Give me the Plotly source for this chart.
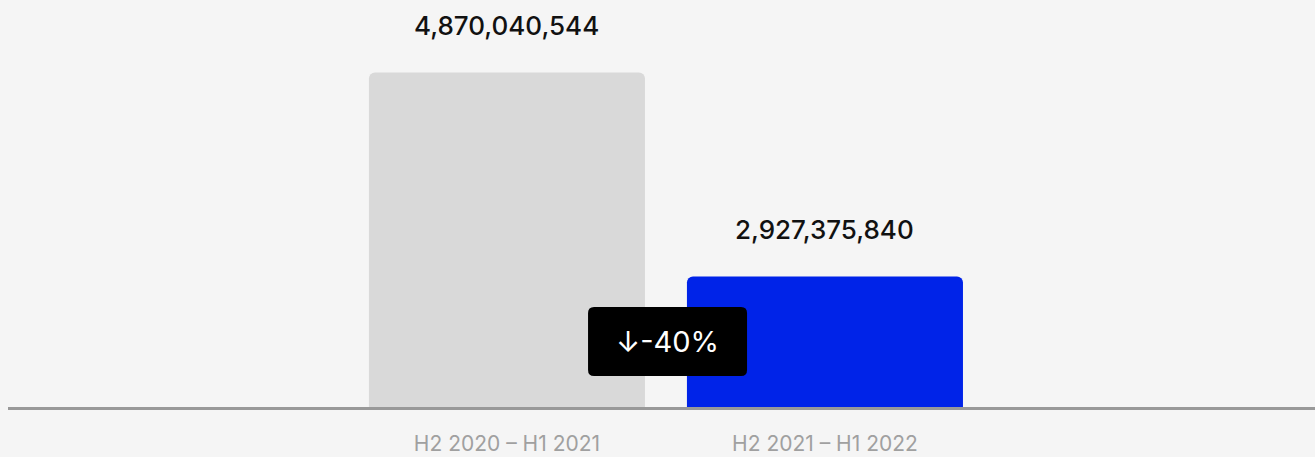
import plotly.graph_objects as go

# Data
periods = ["H2 2020 – H1 2021", "H2 2021 – H1 2022"]
values = [4870040544, 2927375840]
bar_colors = ["#d9d9d9", "#0023e8"]

change_pct = (values[1] - values[0]) / values[0] * 100
change_label = f"↓{change_pct:.0f}%"

FONT = "Inter"
x_pos = list(range(len(periods)))

fig = go.Figure(
    go.Bar(
        x=x_pos,
        y=values,
        width=0.868,
        marker=dict(color=bar_colors, line=dict(width=0)),
        hoverinfo="skip",
    )
)

# Value labels above each bar
for xi, v in zip(x_pos, values):
    fig.add_annotation(
        x=xi, y=v, text=f"{v:,}", showarrow=False,
        yanchor="middle", yshift=47,
        font=dict(family=FONT, size=26, color="#111111", weight=500),
    )

# Change badge between the bars
badge_x = 0.505
badge_y = 0.161
w, h, r = 159, 69, 6
hw, hh = w / 2, h / 2
path = (
    f"M {-hw + r},{-hh} L {hw - r},{-hh} Q {hw},{-hh} {hw},{-hh + r} "
    f"L {hw},{hh - r} Q {hw},{hh} {hw - r},{hh} "
    f"L {-hw + r},{hh} Q {-hw},{hh} {-hw},{hh - r} "
    f"L {-hw},{-hh + r} Q {-hw},{-hh} {-hw + r},{-hh} Z"
)
fig.add_shape(
    type="path", path=path,
    xref="x", yref="paper",
    xsizemode="pixel", ysizemode="pixel",
    xanchor=badge_x, yanchor=badge_y,
    fillcolor="#000000", line=dict(width=0), layer="above",
)
fig.add_annotation(
    x=badge_x, y=badge_y, xref="x", yref="paper",
    text=change_label, showarrow=False,
    xanchor="center", yanchor="middle",
    font=dict(family=FONT, size=29, color="#ffffff", weight=400),
)

fig.update_layout(
    width=1315, height=457,
    margin=dict(l=8, r=0, t=0, b=50, autoexpand=False),
    paper_bgcolor="#f5f5f5",
    plot_bgcolor="#f5f5f5",
    barcornerradius=6,
    showlegend=False,
    xaxis=dict(
        range=[-1.569, 2.541],
        tickvals=x_pos, ticktext=periods,
        showgrid=False, zeroline=False,
        showline=True, linecolor="#999999", linewidth=2.5,
        ticks="", ticklabelstandoff=16,
        tickfont=dict(family=FONT, size=21, color="#a0a0a0"),
        automargin=False,
        fixedrange=True,
    ),
    yaxis=dict(
        range=[1.6846e9, 5.5605e9],
        visible=False, showgrid=False, zeroline=False,
        automargin=False,
        fixedrange=True,
    ),
)

fig.write_html("out.html")
